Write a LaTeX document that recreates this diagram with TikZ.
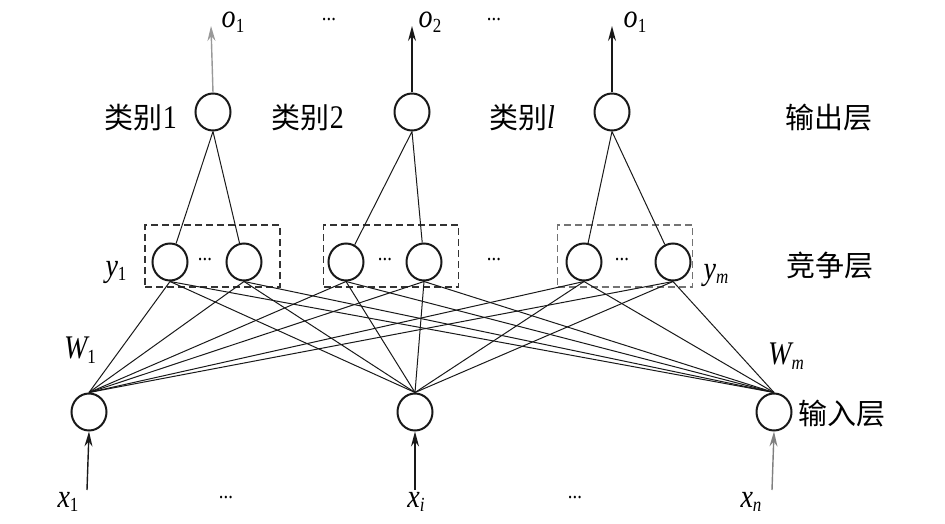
\documentclass[tikz,border=0pt]{standalone}
\usepackage{fontspec}
\setmainfont{Liberation Serif}
\newfontfamily\tnr[FakeStretch=0.85]{Liberation Serif}
\newfontfamily\cjk{Noto Sans CJK SC}
\usetikzlibrary{arrows.meta,shapes.geometric}
\newcommand\lbl[2]{{\tnr\fontsize{33}{33}\selectfont{\itshape #1}\raisebox{-0.3ex}{\fontsize{20}{20}\selectfont #2}}}
\newcommand\zh[1]{{\cjk\fontsize{29}{29}\selectfont #1}}
\begin{document}
\begin{tikzpicture}[x=1pt,y=-1pt,
  neuron/.style={ellipse, draw=black!90, line width=2pt, minimum width=35pt, minimum height=37pt, inner sep=0pt},
  link/.style={draw=black!90, line width=1pt},
  arr/.style={draw=black!90, line width=1.4pt, -{Stealth[length=15pt,width=8pt]}},
  grp/.style={draw=black!80, dashed, line width=1.4pt, dash pattern=on 7pt off 4pt},
  txt/.style={inner sep=0pt, anchor=center},
  dots/.style={inner sep=0pt, font=\tnr\fontsize{22}{22}\selectfont}]
\useasboundingbox (0,0) rectangle (945,524);
% groups
\node[grp, minimum width=135pt, minimum height=62pt, inner sep=0pt] (B1) at (212.5,256) {};
\node[grp, minimum width=135pt, minimum height=62pt, inner sep=0pt] (B2) at (391,256) {};
\node[grp, minimum width=135pt, minimum height=62pt, inner sep=0pt, draw=black!55] (B3) at (625,256) {};
% output neurons
\node[neuron] (O1) at (213,112) {};
\node[neuron] (O2) at (412,112) {};
\node[neuron] (O3) at (612,112) {};
% competition neurons
\node[neuron] (C1) at (170,262) {};
\node[neuron] (C2) at (244,262) {};
\node[neuron] (C3) at (346,262) {};
\node[neuron] (C4) at (424,262) {};
\node[neuron] (C5) at (584,262) {};
\node[neuron] (C6) at (673,262) {};
% input neurons
\node[neuron] (I1) at (89,412) {};
\node[neuron] (I2) at (415,412) {};
\node[neuron] (I3) at (774,412) {};
% arrow free ends
\coordinate (T1) at (211,26);
\coordinate (T2) at (412,26);
\coordinate (T3) at (612,26);
\coordinate (S1) at (87,490);
\coordinate (S2) at (415,490);
\coordinate (S3) at (772,490);
\draw[arr, draw=black!40] (O1.north) -- (T1);
\draw[arr] (O2.north) -- (T2);
\draw[arr] (O3.north) -- (T3);
\draw[arr] (S1) -- (I1.south);
\draw[arr] (S2) -- (I2.south);
\draw[arr, draw=black!50] (S3) -- (I3.south);
% output to competition
\draw[link] (O1.south) -- (C1) (O1.south) -- (C2);
\draw[link] (O2.south) -- (C3) (O2.south) -- (C4);
\draw[link] (O3.south) -- (C5) (O3.south) -- (C6);
% input to competition
\foreach \i in {I1,I2,I3}{
  \foreach \c in {C1,C2,C3,C4,C5,C6}{
    \draw[link] (\i.north) -- (\c.south);
  }
}
% texts
\node[txt] (lo1) at (233,22) {\lbl{o}{1}};
\node[txt] (lo2) at (430,22) {\lbl{o}{2}};
\node[txt] (lo3) at (635,22) {\lbl{o}{1}};
\node[dots] (d1) at (329,20) {...};
\node[dots] (d2) at (494,20) {...};
\node[txt] (k1) at (141,118) {\zh{类别}{\tnr\fontsize{33}{33}\selectfont 1}};
\node[txt] (k2) at (308,118) {\zh{类别}{\tnr\fontsize{33}{33}\selectfont 2}};
\node[txt] (k3) at (522,118) {\zh{类别}{\tnr\fontsize{33}{33}\selectfont\itshape l}};
\node[txt] (L1) at (829,118) {\zh{输出层}};
\node[txt] (L2) at (830,266) {\zh{竞争层}};
\node[txt] (L3) at (842,414) {\zh{输入层}};
\node[dots] (d3) at (205,260) {...};
\node[dots] (d4) at (385,260) {...};
\node[dots] (d5) at (622,260) {...};
\node[dots] (d6) at (494,260) {...};
\node[txt] (ly1) at (116,272) {\lbl{y}{1}};
\node[txt] (lym) at (716,275) {\lbl{y}{\itshape m}};
\node[txt] (lw1) at (80,350) {\lbl{W}{1}};
\node[txt] (lwm) at (786,356) {\lbl{W}{\itshape m}};
\node[txt] (lx1) at (68,502) {\lbl{x}{1}};
\node[txt] (lxi) at (416,502) {\lbl{x}{\itshape i}};
\node[txt] (lxn) at (751,502) {\lbl{x}{\itshape n}};
\node[dots] (d7) at (226,498) {...};
\node[dots] (d8) at (575,498) {...};
\end{tikzpicture}
\end{document}
